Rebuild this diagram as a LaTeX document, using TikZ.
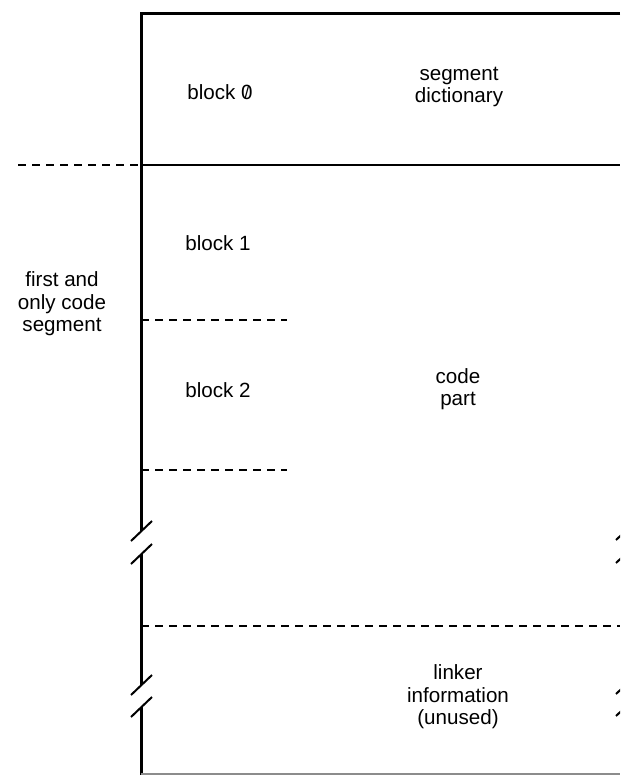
\documentclass[tikz,border=0pt]{standalone}
\usepackage{fontspec}
\setmainfont{Liberation Sans}
\usetikzlibrary{positioning}

% zero with a stroke through it, as printed on the listing
\newcommand{\slzero}{\ooalign{0\cr\hidewidth\raisebox{0.1ex}{\scalebox{0.8}{/}}\hidewidth\cr}}

\begin{document}
\begin{tikzpicture}[x=0.5pt,y=-0.5pt,
    wall/.style={line width=1.5pt},
    split/.style={line width=1pt},
    part/.style={line width=0.75pt,dash pattern=on 4pt off 3pt},
    brk/.style={line width=1pt},
    lbl/.style={align=center,inner sep=0pt,font=\fontsize{10.3}{11.3}\selectfont}
  ]
  \useasboundingbox (0,0) rectangle (620,775);
  \clip (0,0) rectangle (620,775);

  % outer frame, cut off on the right
  \draw[wall] (620,14) -- (141,14) -- (141,531);
  \draw[wall] (141,554) -- (141,685);
  \draw[wall] (141,707) -- (141,775);
  \draw[line width=0.8pt,black!45] (141,774) -- (620,774);

  % break marks
  \foreach \y in {531,554,685,707} {
    \draw[brk] (131,\y+10) -- (152,\y-10);
    \draw[brk] (616,\y+9) -- (637,\y-11);
  }

  % block boundaries
  \draw[split] (141,165) -- (620,165);
  \draw[part] (18,165) -- (139,165);
  \draw[part] (141,320) -- (287,320);
  \draw[part] (141,470) -- (287,470);
  \draw[part] (141,626) -- (620,626);

  \node[lbl] (blk0) at (220,92) {block \slzero};
  \node[lbl] (dict) at (459,87) {segment\\dictionary};
  \node[lbl] (blk1) at (218,243) {block 1};
  \node[lbl] (seg) at (62,304) {first and\\only code\\segment};
  \node[lbl] (blk2) at (218,390) {block 2};
  \node[lbl] (code) at (458,389) {code\\part};
  \node[lbl] (link) at (458,697) {linker\\information\\(unused)};
\end{tikzpicture}
\end{document}
